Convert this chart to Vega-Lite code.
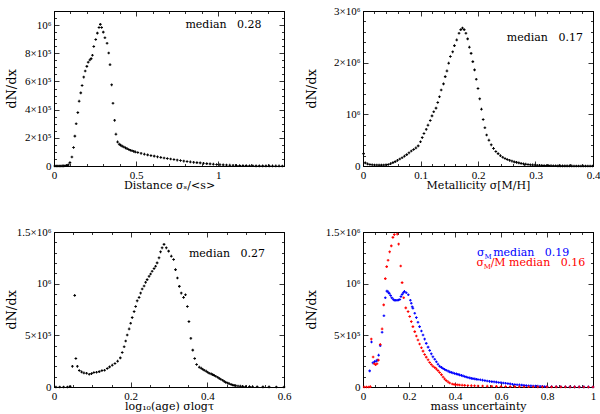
{
"$schema":"https://vega.github.io/schema/vega-lite/v6.json",
"background":"white",
"padding":{"left":4,"top":4,"right":5,"bottom":0},
"columns":2,
"spacing":{"row":66,"column":79},
"bounds":"flush",
"datasets":{
"d1":[{"x":0.005,"y":0},{"x":0.014,"y":0},{"x":0.023,"y":0},{"x":0.032,"y":0},{"x":0.041,"y":0},{"x":0.05,"y":500},{"x":0.059,"y":1000},{"x":0.068,"y":2000},{"x":0.077,"y":4000},{"x":0.087,"y":8000},{"x":0.097,"y":24000},{"x":0.109,"y":64000},{"x":0.119,"y":131000},{"x":0.127,"y":212000},{"x":0.135,"y":300000},{"x":0.145,"y":379000},{"x":0.153,"y":460000},{"x":0.163,"y":519000},{"x":0.171,"y":571000},{"x":0.181,"y":631000},{"x":0.19,"y":674000},{"x":0.2,"y":707000},{"x":0.208,"y":736000},{"x":0.218,"y":752000},{"x":0.226,"y":762000},{"x":0.234,"y":786000},{"x":0.242,"y":848000},{"x":0.254,"y":898000},{"x":0.264,"y":943000},{"x":0.274,"y":983000},{"x":0.282,"y":1005000},{"x":0.29,"y":983000},{"x":0.3,"y":950000},{"x":0.31,"y":910000},{"x":0.323,"y":871000},{"x":0.333,"y":802000},{"x":0.341,"y":719000},{"x":0.351,"y":576000},{"x":0.359,"y":445000},{"x":0.369,"y":324000},{"x":0.377,"y":226000},{"x":0.387,"y":171000},{"x":0.397,"y":155000},{"x":0.405,"y":148000},{"x":0.415,"y":141000},{"x":0.425,"y":135000},{"x":0.435,"y":129000},{"x":0.445,"y":123000},{"x":0.455,"y":117000},{"x":0.465,"y":112000},{"x":0.475,"y":108000},{"x":0.485,"y":104000},{"x":0.495,"y":100000},{"x":0.51,"y":96000},{"x":0.53,"y":90000},{"x":0.55,"y":84000},{"x":0.57,"y":79000},{"x":0.59,"y":74000},{"x":0.61,"y":70000},{"x":0.63,"y":65000},{"x":0.65,"y":61000},{"x":0.67,"y":57000},{"x":0.69,"y":53000},{"x":0.71,"y":50000},{"x":0.73,"y":46000},{"x":0.75,"y":42000},{"x":0.77,"y":39000},{"x":0.79,"y":35000},{"x":0.81,"y":32000},{"x":0.83,"y":29000},{"x":0.85,"y":26000},{"x":0.87,"y":24000},{"x":0.89,"y":22000},{"x":0.91,"y":19000},{"x":0.93,"y":17000},{"x":0.95,"y":15000},{"x":0.97,"y":13000},{"x":0.99,"y":11000},{"x":1.01,"y":9500},{"x":1.03,"y":8000},{"x":1.05,"y":7000},{"x":1.07,"y":6000},{"x":1.09,"y":5000},{"x":1.11,"y":4200},{"x":1.13,"y":3500},{"x":1.15,"y":3000},{"x":1.17,"y":2500},{"x":1.19,"y":2000},{"x":1.21,"y":1700},{"x":1.23,"y":1400},{"x":1.25,"y":1200},{"x":1.27,"y":1000},{"x":1.29,"y":800},{"x":1.31,"y":700},{"x":1.33,"y":600},{"x":1.35,"y":500},{"x":1.37,"y":400},{"x":1.39,"y":300}],
"d2":[{"x":0.001,"y":240000},{"x":0.004,"y":60000},{"x":0.008,"y":40000},{"x":0.012,"y":30000},{"x":0.016,"y":25000},{"x":0.02,"y":20000},{"x":0.024,"y":18000},{"x":0.028,"y":17000},{"x":0.032,"y":17000},{"x":0.036,"y":18000},{"x":0.04,"y":22000},{"x":0.044,"y":30000},{"x":0.048,"y":45000},{"x":0.052,"y":65000},{"x":0.056,"y":85000},{"x":0.06,"y":110000},{"x":0.064,"y":135000},{"x":0.068,"y":160000},{"x":0.072,"y":190000},{"x":0.076,"y":220000},{"x":0.08,"y":255000},{"x":0.084,"y":290000},{"x":0.088,"y":320000},{"x":0.092,"y":350000},{"x":0.096,"y":390000},{"x":0.1,"y":470000},{"x":0.103,"y":550000},{"x":0.106,"y":630000},{"x":0.11,"y":710000},{"x":0.113,"y":790000},{"x":0.117,"y":880000},{"x":0.12,"y":970000},{"x":0.123,"y":1050000},{"x":0.127,"y":1120000},{"x":0.13,"y":1230000},{"x":0.133,"y":1340000},{"x":0.136,"y":1470000},{"x":0.14,"y":1590000},{"x":0.143,"y":1730000},{"x":0.146,"y":1840000},{"x":0.149,"y":1990000},{"x":0.152,"y":2120000},{"x":0.156,"y":2210000},{"x":0.159,"y":2330000},{"x":0.163,"y":2440000},{"x":0.167,"y":2570000},{"x":0.17,"y":2640000},{"x":0.173,"y":2670000},{"x":0.176,"y":2640000},{"x":0.179,"y":2570000},{"x":0.182,"y":2460000},{"x":0.185,"y":2300000},{"x":0.188,"y":2180000},{"x":0.191,"y":2020000},{"x":0.194,"y":1860000},{"x":0.197,"y":1680000},{"x":0.2,"y":1500000},{"x":0.203,"y":1300000},{"x":0.206,"y":1100000},{"x":0.209,"y":900000},{"x":0.212,"y":740000},{"x":0.215,"y":600000},{"x":0.219,"y":500000},{"x":0.223,"y":410000},{"x":0.227,"y":340000},{"x":0.231,"y":280000},{"x":0.235,"y":240000},{"x":0.239,"y":200000},{"x":0.243,"y":170000},{"x":0.247,"y":145000},{"x":0.251,"y":125000},{"x":0.255,"y":110000},{"x":0.259,"y":95000},{"x":0.263,"y":80000},{"x":0.267,"y":70000},{"x":0.271,"y":60000},{"x":0.275,"y":50000},{"x":0.279,"y":42000},{"x":0.283,"y":35000},{"x":0.287,"y":30000},{"x":0.291,"y":25000},{"x":0.295,"y":21000},{"x":0.299,"y":18000},{"x":0.303,"y":15000},{"x":0.307,"y":13000},{"x":0.311,"y":11000},{"x":0.315,"y":9000},{"x":0.319,"y":8000},{"x":0.323,"y":7000},{"x":0.327,"y":6000},{"x":0.331,"y":5000},{"x":0.335,"y":4000},{"x":0.339,"y":3500},{"x":0.343,"y":3000},{"x":0.347,"y":2500},{"x":0.351,"y":2000},{"x":0.355,"y":2000},{"x":0.359,"y":1500},{"x":0.363,"y":1500},{"x":0.367,"y":1000},{"x":0.371,"y":1000},{"x":0.375,"y":1000},{"x":0.379,"y":1000},{"x":0.383,"y":1000},{"x":0.387,"y":800},{"x":0.391,"y":800},{"x":0.395,"y":800},{"x":0.399,"y":800}],
"d3":[{"x":0.005,"y":0},{"x":0.015,"y":0},{"x":0.025,"y":0},{"x":0.035,"y":500},{"x":0.042,"y":6000},{"x":0.048,"y":200000},{"x":0.054,"y":886000},{"x":0.057,"y":276000},{"x":0.061,"y":200000},{"x":0.066,"y":160000},{"x":0.072,"y":146000},{"x":0.078,"y":136000},{"x":0.085,"y":133000},{"x":0.092,"y":123000},{"x":0.098,"y":130000},{"x":0.104,"y":140000},{"x":0.111,"y":143000},{"x":0.118,"y":149000},{"x":0.125,"y":159000},{"x":0.132,"y":162000},{"x":0.139,"y":179000},{"x":0.145,"y":195000},{"x":0.152,"y":211000},{"x":0.159,"y":227000},{"x":0.166,"y":250000},{"x":0.173,"y":282000},{"x":0.178,"y":334000},{"x":0.183,"y":390000},{"x":0.187,"y":445000},{"x":0.191,"y":503000},{"x":0.196,"y":562000},{"x":0.2,"y":617000},{"x":0.204,"y":672000},{"x":0.209,"y":730000},{"x":0.213,"y":779000},{"x":0.217,"y":834000},{"x":0.222,"y":867000},{"x":0.226,"y":909000},{"x":0.23,"y":948000},{"x":0.235,"y":977000},{"x":0.239,"y":1013000},{"x":0.243,"y":1039000},{"x":0.248,"y":1071000},{"x":0.252,"y":1094000},{"x":0.256,"y":1120000},{"x":0.261,"y":1146000},{"x":0.265,"y":1169000},{"x":0.269,"y":1201000},{"x":0.274,"y":1250000},{"x":0.278,"y":1308000},{"x":0.282,"y":1347000},{"x":0.287,"y":1380000},{"x":0.293,"y":1347000},{"x":0.299,"y":1315000},{"x":0.306,"y":1266000},{"x":0.312,"y":1234000},{"x":0.317,"y":1136000},{"x":0.322,"y":1055000},{"x":0.327,"y":974000},{"x":0.332,"y":909000},{"x":0.338,"y":867000},{"x":0.343,"y":893000},{"x":0.348,"y":779000},{"x":0.352,"y":633000},{"x":0.357,"y":471000},{"x":0.362,"y":357000},{"x":0.367,"y":276000},{"x":0.372,"y":218000},{"x":0.379,"y":192000},{"x":0.384,"y":182000},{"x":0.388,"y":172000},{"x":0.392,"y":162000},{"x":0.397,"y":153000},{"x":0.401,"y":143000},{"x":0.405,"y":133000},{"x":0.41,"y":127000},{"x":0.414,"y":120000},{"x":0.418,"y":112000},{"x":0.422,"y":104000},{"x":0.427,"y":94000},{"x":0.431,"y":84000},{"x":0.435,"y":75000},{"x":0.44,"y":65000},{"x":0.444,"y":55000},{"x":0.448,"y":45000},{"x":0.453,"y":38000},{"x":0.457,"y":32000},{"x":0.462,"y":25000},{"x":0.466,"y":19000},{"x":0.47,"y":16000},{"x":0.474,"y":13000},{"x":0.48,"y":10000},{"x":0.486,"y":8000},{"x":0.492,"y":6000},{"x":0.5,"y":4500},{"x":0.51,"y":3500},{"x":0.518,"y":3000},{"x":0.53,"y":2000},{"x":0.545,"y":1500},{"x":0.561,"y":1000},{"x":0.58,"y":500},{"x":0.6,"y":300}],
"d4":[{"x":0.029,"y":156000,"s":"b"},{"x":0.037,"y":435000,"s":"b"},{"x":0.043,"y":234000,"s":"b"},{"x":0.05,"y":245000,"s":"b"},{"x":0.057,"y":250000,"s":"b"},{"x":0.062,"y":260000,"s":"b"},{"x":0.068,"y":308000,"s":"b"},{"x":0.075,"y":400000,"s":"b"},{"x":0.083,"y":530000,"s":"b"},{"x":0.091,"y":690000,"s":"b"},{"x":0.097,"y":864000,"s":"b"},{"x":0.104,"y":928000,"s":"b"},{"x":0.109,"y":920000,"s":"b"},{"x":0.114,"y":906000,"s":"b"},{"x":0.12,"y":885000,"s":"b"},{"x":0.125,"y":864000,"s":"b"},{"x":0.131,"y":850000,"s":"b"},{"x":0.136,"y":840000,"s":"b"},{"x":0.142,"y":840000,"s":"b"},{"x":0.148,"y":840000,"s":"b"},{"x":0.154,"y":842000,"s":"b"},{"x":0.16,"y":847000,"s":"b"},{"x":0.165,"y":875000,"s":"b"},{"x":0.17,"y":896000,"s":"b"},{"x":0.175,"y":912000,"s":"b"},{"x":0.18,"y":925000,"s":"b"},{"x":0.188,"y":912000,"s":"b"},{"x":0.197,"y":893000,"s":"b"},{"x":0.206,"y":840000,"s":"b"},{"x":0.21,"y":810000,"s":"b"},{"x":0.214,"y":776000,"s":"b"},{"x":0.217,"y":763000,"s":"b"},{"x":0.225,"y":714000,"s":"b"},{"x":0.232,"y":672000,"s":"b"},{"x":0.239,"y":627000,"s":"b"},{"x":0.246,"y":584000,"s":"b"},{"x":0.254,"y":542000,"s":"b"},{"x":0.261,"y":503000,"s":"b"},{"x":0.268,"y":464000,"s":"b"},{"x":0.275,"y":422000,"s":"b"},{"x":0.283,"y":386000,"s":"b"},{"x":0.29,"y":354000,"s":"b"},{"x":0.297,"y":321000,"s":"b"},{"x":0.304,"y":292000,"s":"b"},{"x":0.312,"y":269000,"s":"b"},{"x":0.319,"y":244000,"s":"b"},{"x":0.326,"y":221000,"s":"b"},{"x":0.333,"y":201000,"s":"b"},{"x":0.341,"y":190000,"s":"b"},{"x":0.348,"y":179000,"s":"b"},{"x":0.355,"y":170000,"s":"b"},{"x":0.362,"y":162000,"s":"b"},{"x":0.37,"y":154000,"s":"b"},{"x":0.377,"y":146000,"s":"b"},{"x":0.384,"y":141000,"s":"b"},{"x":0.391,"y":136000,"s":"b"},{"x":0.398,"y":131000,"s":"b"},{"x":0.406,"y":127000,"s":"b"},{"x":0.413,"y":122000,"s":"b"},{"x":0.42,"y":117000,"s":"b"},{"x":0.428,"y":112000,"s":"b"},{"x":0.435,"y":107000,"s":"b"},{"x":0.442,"y":102000,"s":"b"},{"x":0.449,"y":97000,"s":"b"},{"x":0.456,"y":92000,"s":"b"},{"x":0.464,"y":88000,"s":"b"},{"x":0.471,"y":84000,"s":"b"},{"x":0.478,"y":81000,"s":"b"},{"x":0.486,"y":78000,"s":"b"},{"x":0.493,"y":75000,"s":"b"},{"x":0.5,"y":73000,"s":"b"},{"x":0.51,"y":70000,"s":"b"},{"x":0.52,"y":66000,"s":"b"},{"x":0.53,"y":62000,"s":"b"},{"x":0.54,"y":58000,"s":"b"},{"x":0.55,"y":55000,"s":"b"},{"x":0.56,"y":52000,"s":"b"},{"x":0.57,"y":50000,"s":"b"},{"x":0.58,"y":47000,"s":"b"},{"x":0.59,"y":44000,"s":"b"},{"x":0.6,"y":42000,"s":"b"},{"x":0.61,"y":39000,"s":"b"},{"x":0.62,"y":36000,"s":"b"},{"x":0.63,"y":33000,"s":"b"},{"x":0.64,"y":30000,"s":"b"},{"x":0.65,"y":27000,"s":"b"},{"x":0.66,"y":24000,"s":"b"},{"x":0.67,"y":22000,"s":"b"},{"x":0.68,"y":20000,"s":"b"},{"x":0.69,"y":18000,"s":"b"},{"x":0.7,"y":16000,"s":"b"},{"x":0.71,"y":14000,"s":"b"},{"x":0.72,"y":12500,"s":"b"},{"x":0.73,"y":11000,"s":"b"},{"x":0.74,"y":10000,"s":"b"},{"x":0.75,"y":9000,"s":"b"},{"x":0.76,"y":8000,"s":"b"},{"x":0.77,"y":7000,"s":"b"},{"x":0.78,"y":6000,"s":"b"},{"x":0.79,"y":5000,"s":"b"},{"x":0.8,"y":4500,"s":"b"},{"x":0.82,"y":3500,"s":"b"},{"x":0.84,"y":3000,"s":"b"},{"x":0.86,"y":2500,"s":"b"},{"x":0.88,"y":2000,"s":"b"},{"x":0.9,"y":1500,"s":"b"},{"x":0.92,"y":1200,"s":"b"},{"x":0.94,"y":1000,"s":"b"},{"x":0.96,"y":800,"s":"b"},{"x":0.98,"y":600,"s":"b"},{"x":1.0,"y":500,"s":"b"},
{"x":0.005,"y":0,"s":"r"},{"x":0.015,"y":0,"s":"r"},{"x":0.025,"y":0,"s":"r"},{"x":0.032,"y":3000,"s":"r"},{"x":0.036,"y":464000,"s":"r"},{"x":0.044,"y":290000,"s":"r"},{"x":0.049,"y":225000,"s":"r"},{"x":0.055,"y":215000,"s":"r"},{"x":0.061,"y":225000,"s":"r"},{"x":0.067,"y":260000,"s":"r"},{"x":0.075,"y":412000,"s":"r"},{"x":0.083,"y":562000,"s":"r"},{"x":0.09,"y":795000,"s":"r"},{"x":0.097,"y":1049000,"s":"r"},{"x":0.103,"y":1165000,"s":"r"},{"x":0.109,"y":1227000,"s":"r"},{"x":0.116,"y":1308000,"s":"r"},{"x":0.123,"y":1366000,"s":"r"},{"x":0.13,"y":1448000,"s":"r"},{"x":0.136,"y":1475000,"s":"r"},{"x":0.149,"y":1480000,"s":"r"},{"x":0.155,"y":1383000,"s":"r"},{"x":0.164,"y":1171000,"s":"r"},{"x":0.17,"y":1010000,"s":"r"},{"x":0.177,"y":864000,"s":"r"},{"x":0.186,"y":766000,"s":"r"},{"x":0.196,"y":730000,"s":"r"},{"x":0.203,"y":682000,"s":"r"},{"x":0.21,"y":633000,"s":"r"},{"x":0.217,"y":584000,"s":"r"},{"x":0.225,"y":536000,"s":"r"},{"x":0.232,"y":494000,"s":"r"},{"x":0.239,"y":455000,"s":"r"},{"x":0.246,"y":416000,"s":"r"},{"x":0.254,"y":380000,"s":"r"},{"x":0.261,"y":347000,"s":"r"},{"x":0.268,"y":315000,"s":"r"},{"x":0.275,"y":289000,"s":"r"},{"x":0.283,"y":263000,"s":"r"},{"x":0.29,"y":237000,"s":"r"},{"x":0.297,"y":218000,"s":"r"},{"x":0.304,"y":201000,"s":"r"},{"x":0.312,"y":188000,"s":"r"},{"x":0.319,"y":175000,"s":"r"},{"x":0.326,"y":159000,"s":"r"},{"x":0.333,"y":140000,"s":"r"},{"x":0.341,"y":120000,"s":"r"},{"x":0.348,"y":97000,"s":"r"},{"x":0.355,"y":78000,"s":"r"},{"x":0.362,"y":62000,"s":"r"},{"x":0.37,"y":49000,"s":"r"},{"x":0.377,"y":39000,"s":"r"},{"x":0.388,"y":29000,"s":"r"},{"x":0.396,"y":25000,"s":"r"},{"x":0.403,"y":23000,"s":"r"},{"x":0.412,"y":21000,"s":"r"},{"x":0.42,"y":19000,"s":"r"},{"x":0.431,"y":17500,"s":"r"},{"x":0.442,"y":16000,"s":"r"},{"x":0.456,"y":14500,"s":"r"},{"x":0.471,"y":13000,"s":"r"},{"x":0.485,"y":11500,"s":"r"},{"x":0.5,"y":10000,"s":"r"},{"x":0.52,"y":9000,"s":"r"},{"x":0.54,"y":8000,"s":"r"},{"x":0.56,"y":7000,"s":"r"},{"x":0.58,"y":6000,"s":"r"},{"x":0.6,"y":5000,"s":"r"},{"x":0.62,"y":4500,"s":"r"},{"x":0.64,"y":4000,"s":"r"},{"x":0.66,"y":3500,"s":"r"},{"x":0.68,"y":3000,"s":"r"},{"x":0.7,"y":2500,"s":"r"},{"x":0.72,"y":2200,"s":"r"},{"x":0.74,"y":2000,"s":"r"},{"x":0.76,"y":1800,"s":"r"},{"x":0.78,"y":1600,"s":"r"},{"x":0.8,"y":1400,"s":"r"},{"x":0.82,"y":1200,"s":"r"},{"x":0.84,"y":1100,"s":"r"},{"x":0.86,"y":1000,"s":"r"},{"x":0.88,"y":900,"s":"r"},{"x":0.9,"y":800,"s":"r"},{"x":0.92,"y":700,"s":"r"},{"x":0.94,"y":600,"s":"r"},{"x":0.96,"y":500,"s":"r"},{"x":0.98,"y":400,"s":"r"},{"x":1.0,"y":300,"s":"r"}]
},
"concat":[
{"width":230,"height":155,
 "layer":[
  {"data":{"name":"d1"},
   "mark":{"type":"point","shape":"cross","filled":true,"size":7,"color":"black","opacity":1},
   "encoding":{
    "x":{"field":"x","type":"quantitative","scale":{"domain":[0,1.4],"nice":false,"zero":false},
     "axis":{"orient":"bottom","values":[0,0.1,0.2,0.3,0.4,0.5,0.6,0.7,0.8,0.9,1,1.1,1.2,1.3,1.4],"format":"~g","labelExpr":"(datum.value==0||datum.value==0.5||datum.value==1)?datum.label:''","tickSize":{"condition":{"test":"datum.value!=0&&datum.value!=0.5&&datum.value!=1","value":-2.5},"value":-5},"labelPadding":8,"title":"Distance σₛ/<s>","titleY":22.5,"titleBaseline":"alphabetic"}},
    "y":{"field":"y","type":"quantitative","scale":{"domain":[0,1100000],"nice":false,"zero":false},
     "axis":{"orient":"left","values":[0,50000,100000,150000,200000,250000,300000,350000,400000,450000,500000,550000,600000,650000,700000,750000,800000,850000,900000,950000,1000000,1050000,1100000],"labelExpr":"datum.value==0?'0':datum.value==1000000?'10⁶':(datum.value%200000==0&&datum.value<1000000)?(datum.value/100000)+'×10⁵':''","tickSize":{"condition":{"test":"datum.value%200000!=0||datum.value>1000000","value":-2.5},"value":-5},"labelPadding":8,"title":"dN/dx","titleX":-36,"titleFontSize":13}}}},
  {"data":{"name":"d1"},
   "mark":{"type":"point","opacity":0},
   "encoding":{
    "x":{"field":"x","type":"quantitative","scale":{"domain":[0,1.4],"nice":false,"zero":false},
     "axis":{"orient":"top","values":[0,0.1,0.2,0.3,0.4,0.5,0.6,0.7,0.8,0.9,1,1.1,1.2,1.3,1.4],"labels":false,"title":null,"tickSize":{"condition":{"test":"datum.value!=0&&datum.value!=0.5&&datum.value!=1","value":-2.5},"value":-5}}},
    "y":{"field":"y","type":"quantitative","scale":{"domain":[0,1100000],"nice":false,"zero":false},
     "axis":{"orient":"right","values":[0,50000,100000,150000,200000,250000,300000,350000,400000,450000,500000,550000,600000,650000,700000,750000,800000,850000,900000,950000,1000000,1050000,1100000],"labels":false,"title":null,"tickSize":{"condition":{"test":"datum.value%200000!=0||datum.value>1000000","value":-2.5},"value":-5}}}}},
  {"data":{"values":[{"x":0.8,"y":976000,"t":"median\u00a0\u00a0\u00a00.28"}]},
   "mark":{"type":"text","align":"left","baseline":"alphabetic","font":"DejaVu Serif","fontSize":11,"color":"black"},
   "encoding":{
    "x":{"field":"x","type":"quantitative","scale":{"domain":[0,1.4],"nice":false,"zero":false},"axis":null},
    "y":{"field":"y","type":"quantitative","scale":{"domain":[0,1100000],"nice":false,"zero":false},"axis":null},
    "text":{"field":"t"}}}
 ],
 "resolve":{"axis":{"x":"independent","y":"independent"}}
},
{"width":230,"height":155,
 "layer":[
  {"data":{"name":"d2"},
   "mark":{"type":"point","shape":"cross","filled":true,"size":7,"color":"black","opacity":1},
   "encoding":{
    "x":{"field":"x","type":"quantitative","scale":{"domain":[0,0.4],"nice":false,"zero":false},
     "axis":{"orient":"bottom","values":[0,0.02,0.04,0.06,0.08,0.1,0.12,0.14,0.16,0.18,0.2,0.22,0.24,0.26,0.28,0.3,0.32,0.34,0.36,0.38,0.4],"format":"~g","labelExpr":"(datum.value==0||datum.value==0.1||datum.value==0.2||datum.value==0.3||datum.value==0.4)?datum.label:''","tickSize":{"condition":{"test":"datum.value!=0&&datum.value!=0.1&&datum.value!=0.2&&datum.value!=0.3&&datum.value!=0.4","value":-2.5},"value":-5},"labelPadding":8,"title":"Metallicity σ[M/H]","titleY":22.5,"titleBaseline":"alphabetic"}},
    "y":{"field":"y","type":"quantitative","scale":{"domain":[0,3000000],"nice":false,"zero":false},
     "axis":{"orient":"left","values":[0,200000,400000,600000,800000,1000000,1200000,1400000,1600000,1800000,2000000,2200000,2400000,2600000,2800000,3000000],"labelExpr":"datum.value==0?'0':datum.value==1000000?'10⁶':datum.value==2000000?'2×10⁶':datum.value==3000000?'3×10⁶':''","tickSize":{"condition":{"test":"datum.value%1000000!=0","value":-2.5},"value":-5},"labelPadding":8,"title":"dN/dx","titleX":-45,"titleFontSize":13}}}},
  {"data":{"name":"d2"},
   "mark":{"type":"point","opacity":0},
   "encoding":{
    "x":{"field":"x","type":"quantitative","scale":{"domain":[0,0.4],"nice":false,"zero":false},
     "axis":{"orient":"top","values":[0,0.02,0.04,0.06,0.08,0.1,0.12,0.14,0.16,0.18,0.2,0.22,0.24,0.26,0.28,0.3,0.32,0.34,0.36,0.38,0.4],"labels":false,"title":null,"tickSize":{"condition":{"test":"datum.value!=0&&datum.value!=0.1&&datum.value!=0.2&&datum.value!=0.3&&datum.value!=0.4","value":-2.5},"value":-5}}},
    "y":{"field":"y","type":"quantitative","scale":{"domain":[0,3000000],"nice":false,"zero":false},
     "axis":{"orient":"right","values":[0,200000,400000,600000,800000,1000000,1200000,1400000,1600000,1800000,2000000,2200000,2400000,2600000,2800000,3000000],"labels":false,"title":null,"tickSize":{"condition":{"test":"datum.value%1000000!=0","value":-2.5},"value":-5}}}}},
  {"data":{"values":[{"x":0.25,"y":2425000,"t":"median\u00a0\u00a0\u00a00.17"}]},
   "mark":{"type":"text","align":"left","baseline":"alphabetic","font":"DejaVu Serif","fontSize":11,"color":"black"},
   "encoding":{
    "x":{"field":"x","type":"quantitative","scale":{"domain":[0,0.4],"nice":false,"zero":false},"axis":null},
    "y":{"field":"y","type":"quantitative","scale":{"domain":[0,3000000],"nice":false,"zero":false},"axis":null},
    "text":{"field":"t"}}}
 ],
 "resolve":{"axis":{"x":"independent","y":"independent"}}
},
{"width":230,"height":155,
 "layer":[
  {"data":{"name":"d3"},
   "mark":{"type":"point","shape":"cross","filled":true,"size":7,"color":"black","opacity":1},
   "encoding":{
    "x":{"field":"x","type":"quantitative","scale":{"domain":[0,0.6],"nice":false,"zero":false},
     "axis":{"orient":"bottom","values":[0,0.05,0.1,0.15,0.2,0.25,0.3,0.35,0.4,0.45,0.5,0.55,0.6],"format":"~g","labelExpr":"(datum.value==0||datum.value==0.2||datum.value==0.4||datum.value==0.6)?datum.label:''","tickSize":{"condition":{"test":"datum.value!=0&&datum.value!=0.2&&datum.value!=0.4&&datum.value!=0.6","value":-2.5},"value":-5},"labelPadding":8,"title":"log₁₀(age) σlogτ","titleY":22,"titleBaseline":"alphabetic"}},
    "y":{"field":"y","type":"quantitative","scale":{"domain":[0,1500000],"nice":false,"zero":false},
     "axis":{"orient":"left","values":[0,100000,200000,300000,400000,500000,600000,700000,800000,900000,1000000,1100000,1200000,1300000,1400000,1500000],"labelExpr":"datum.value==0?'0':datum.value==500000?'5×10⁵':datum.value==1000000?'10⁶':datum.value==1500000?'1.5×10⁶':''","tickSize":{"condition":{"test":"datum.value%500000!=0","value":-2.5},"value":-5},"labelPadding":8,"title":"dN/dx","titleX":-36,"titleFontSize":13}}}},
  {"data":{"name":"d3"},
   "mark":{"type":"point","opacity":0},
   "encoding":{
    "x":{"field":"x","type":"quantitative","scale":{"domain":[0,0.6],"nice":false,"zero":false},
     "axis":{"orient":"top","values":[0,0.05,0.1,0.15,0.2,0.25,0.3,0.35,0.4,0.45,0.5,0.55,0.6],"labels":false,"title":null,"tickSize":{"condition":{"test":"datum.value!=0&&datum.value!=0.2&&datum.value!=0.4&&datum.value!=0.6","value":-2.5},"value":-5}}},
    "y":{"field":"y","type":"quantitative","scale":{"domain":[0,1500000],"nice":false,"zero":false},
     "axis":{"orient":"right","values":[0,100000,200000,300000,400000,500000,600000,700000,800000,900000,1000000,1100000,1200000,1300000,1400000,1500000],"labels":false,"title":null,"tickSize":{"condition":{"test":"datum.value%500000!=0","value":-2.5},"value":-5}}}}},
  {"data":{"values":[{"x":0.352,"y":1259000,"t":"median\u00a0\u00a0\u00a00.27"}]},
   "mark":{"type":"text","align":"left","baseline":"alphabetic","font":"DejaVu Serif","fontSize":11,"color":"black"},
   "encoding":{
    "x":{"field":"x","type":"quantitative","scale":{"domain":[0,0.6],"nice":false,"zero":false},"axis":null},
    "y":{"field":"y","type":"quantitative","scale":{"domain":[0,1500000],"nice":false,"zero":false},"axis":null},
    "text":{"field":"t"}}}
 ],
 "resolve":{"axis":{"x":"independent","y":"independent"}}
},
{"width":230,"height":155,
 "layer":[
  {"data":{"name":"d4"},
   "mark":{"type":"point","shape":"cross","filled":true,"size":7,"opacity":1},
   "encoding":{
    "x":{"field":"x","type":"quantitative","scale":{"domain":[0,1],"nice":false,"zero":false},
     "axis":{"orient":"bottom","values":[0,0.05,0.1,0.15,0.2,0.25,0.3,0.35,0.4,0.45,0.5,0.55,0.6,0.65,0.7,0.75,0.8,0.85,0.9,0.95,1],"format":"~g","labelExpr":"(datum.value==0||datum.value==0.2||datum.value==0.4||datum.value==0.6||datum.value==0.8||datum.value==1)?datum.label:''","tickSize":{"condition":{"test":"datum.value!=0&&datum.value!=0.2&&datum.value!=0.4&&datum.value!=0.6&&datum.value!=0.8&&datum.value!=1","value":-2.5},"value":-5},"labelPadding":8,"title":"mass uncertainty","titleY":22,"titleBaseline":"alphabetic"}},
    "y":{"field":"y","type":"quantitative","scale":{"domain":[0,1500000],"nice":false,"zero":false},
     "axis":{"orient":"left","values":[0,100000,200000,300000,400000,500000,600000,700000,800000,900000,1000000,1100000,1200000,1300000,1400000,1500000],"labelExpr":"datum.value==0?'0':datum.value==500000?'5×10⁵':datum.value==1000000?'10⁶':datum.value==1500000?'1.5×10⁶':''","tickSize":{"condition":{"test":"datum.value%500000!=0","value":-2.5},"value":-5},"labelPadding":8,"title":"dN/dx","titleX":-45,"titleFontSize":13}},
    "color":{"field":"s","type":"nominal","scale":{"domain":["b","r"],"range":["#0000ff","#ff0000"]},"legend":null}}},
  {"data":{"name":"d4"},
   "mark":{"type":"point","opacity":0},
   "encoding":{
    "x":{"field":"x","type":"quantitative","scale":{"domain":[0,1],"nice":false,"zero":false},
     "axis":{"orient":"top","values":[0,0.05,0.1,0.15,0.2,0.25,0.3,0.35,0.4,0.45,0.5,0.55,0.6,0.65,0.7,0.75,0.8,0.85,0.9,0.95,1],"labels":false,"title":null,"tickSize":{"condition":{"test":"datum.value!=0&&datum.value!=0.2&&datum.value!=0.4&&datum.value!=0.6&&datum.value!=0.8&&datum.value!=1","value":-2.5},"value":-5}}},
    "y":{"field":"y","type":"quantitative","scale":{"domain":[0,1500000],"nice":false,"zero":false},
     "axis":{"orient":"right","values":[0,100000,200000,300000,400000,500000,600000,700000,800000,900000,1000000,1100000,1200000,1300000,1400000,1500000],"labels":false,"title":null,"tickSize":{"condition":{"test":"datum.value%500000!=0","value":-2.5},"value":-5}}}}},
  {"data":{"values":[{"x":0.496,"y":1266000,"t":"σ","s":"b"},{"x":0.566,"y":1266000,"t":"median\u00a0\u00a0\u00a00.19","s":"b"},{"x":0.493,"y":1168000,"t":"σ","s":"r"},{"x":0.555,"y":1168000,"t":"/M median\u00a0\u00a0\u00a00.16","s":"r"}]},
   "mark":{"type":"text","align":"left","baseline":"alphabetic","font":"DejaVu Serif","fontSize":11},
   "encoding":{
    "x":{"field":"x","type":"quantitative","scale":{"domain":[0,1],"nice":false,"zero":false},"axis":null},
    "y":{"field":"y","type":"quantitative","scale":{"domain":[0,1500000],"nice":false,"zero":false},"axis":null},
    "text":{"field":"t"},
    "color":{"field":"s","type":"nominal","scale":{"domain":["b","r"],"range":["#0000ff","#ff0000"]},"legend":null}}},
  {"data":{"values":[{"x":0.528,"y":1236000,"t":"M","s":"b"},{"x":0.525,"y":1138000,"t":"M","s":"r"}]},
   "mark":{"type":"text","align":"left","baseline":"alphabetic","font":"DejaVu Serif","fontSize":7},
   "encoding":{
    "x":{"field":"x","type":"quantitative","scale":{"domain":[0,1],"nice":false,"zero":false},"axis":null},
    "y":{"field":"y","type":"quantitative","scale":{"domain":[0,1500000],"nice":false,"zero":false},"axis":null},
    "text":{"field":"t"},
    "color":{"field":"s","type":"nominal","scale":{"domain":["b","r"],"range":["#0000ff","#ff0000"]},"legend":null}}}
 ],
 "resolve":{"axis":{"x":"independent","y":"independent"}}
}
],
"config":{
 "view":{"stroke":"black","strokeWidth":1},
 "axis":{"grid":false,"domainColor":"black","domainWidth":1,"tickColor":"black","tickWidth":0.8,"labelFont":"Liberation Serif","labelFontSize":11,"labelColor":"black","titleFont":"DejaVu Serif","titleFontSize":11,"titleFontWeight":"normal","titleColor":"black","labelOverlap":false,"labelFlush":false}
}
}
